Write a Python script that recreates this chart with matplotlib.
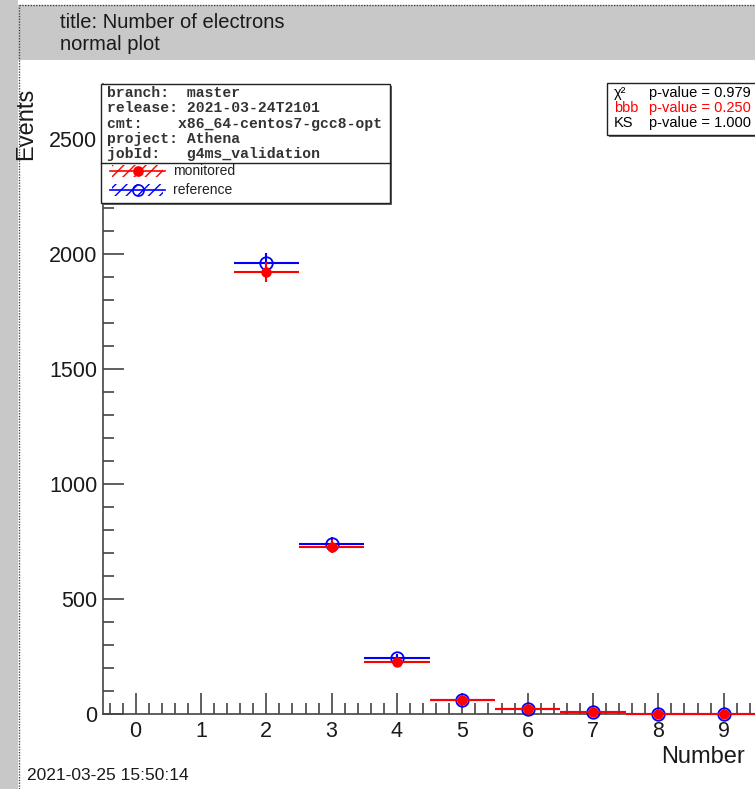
import numpy as np
import matplotlib
matplotlib.use('Agg')
import matplotlib.pyplot as plt
from matplotlib.patches import Rectangle
from matplotlib.lines import Line2D
from matplotlib.ticker import MultipleLocator

# histogram contents (number of electrons per event)
bins = [2, 3, 4, 5, 6, 7, 8, 9]
monitored = [1922, 728, 226, 60, 20, 8, 2, 1]
monitored_err = [44, 27, 15, 8, 4.5, 2.8, 1.4, 1]
reference = [1961, 741, 243, 62, 21, 8, 2, 1]
reference_err = [44, 27, 16, 8, 4.6, 2.8, 1.4, 1]
bin_half_width = 0.5

info_lines = ["branch:  master",
              "release: 2021-03-24T2101",
              "cmt:    x86_64-centos7-gcc8-opt",
              "project: Athena",
              "jobId:   g4ms_validation"]
stat_names = ["\u03c7\u00b2", "bbb", "KS"]
stat_pvalues = [0.979, 0.250, 1.000]
stat_colors = ["black", "red", "black"]

W, H = 755, 789
plt.rcParams['font.family'] = ['Liberation Sans', 'DejaVu Sans']


def fx(px):
    return px / W


def fy(py):
    return 1 - py / H


fig = plt.figure(figsize=(W / 100, H / 100), dpi=100)
fig.patch.set_facecolor('white')

# canvas decoration: gray strip, title band, dotted border
fig.add_artist(Rectangle((0, 0), fx(18), 1, transform=fig.transFigure,
                         facecolor='#c8c8c8', edgecolor='none', zorder=0))
fig.add_artist(Rectangle((fx(18), fy(60)), 1, fy(5) - fy(60), transform=fig.transFigure,
                         facecolor='#c8c8c8', edgecolor='none', zorder=0))
fig.add_artist(Line2D([fx(19), fx(19)], [0, fy(5)], transform=fig.transFigure,
                      color='#444444', lw=1, ls=(0, (1, 1))))
fig.add_artist(Line2D([fx(19), 1], [fy(5), fy(5)], transform=fig.transFigure,
                      color='#444444', lw=1, ls=(0, (1, 1))))
fig.text(fx(60), fy(22), "title: Number of electrons", fontsize=14.5,
         ha='left', va='center', color='#1a1a1a')
fig.text(fx(60), fy(45), "normal plot", fontsize=14.5,
         ha='left', va='center', color='#1a1a1a')

ax = fig.add_axes([fx(103), fy(714), fx(755) - fx(103), fy(84) - fy(714)])
ax.set_xlim(-0.5, (755 - 135) / 65.4)
ax.set_ylim(0, (714 - 84) / 0.23)

ax.errorbar(bins, reference, yerr=reference_err, xerr=bin_half_width,
            fmt='o', color='blue', mfc='none', mec='blue', ms=9, mew=1.3,
            elinewidth=1.5, capsize=0, zorder=3, clip_on=False)
ax.errorbar(bins, monitored, yerr=monitored_err, xerr=bin_half_width,
            fmt='o', color='red', mfc='red', mec='red', ms=6.5,
            elinewidth=1.5, capsize=0, zorder=4, clip_on=False)

for s in ['top', 'right']:
    ax.spines[s].set_visible(False)
for s in ['left', 'bottom']:
    ax.spines[s].set_color('#444444')
    ax.spines[s].set_linewidth(1.2)

ax.xaxis.set_major_locator(MultipleLocator(1))
ax.xaxis.set_minor_locator(MultipleLocator(0.2))
ax.yaxis.set_major_locator(MultipleLocator(500))
ax.yaxis.set_minor_locator(MultipleLocator(100))
ax.tick_params(which='both', direction='in', colors='#444444', labelcolor='#1a1a1a',
               labelsize=15.5, width=1.2, pad=4)
ax.tick_params(which='major', length=15)
ax.tick_params(which='minor', length=8)
ax.tick_params(axis='x', pad=5)

fig.text(fx(745), fy(757), "Number", fontsize=17, ha='right', va='center', color='#1a1a1a')
fig.text(fx(26), fy(88), "Events", fontsize=17, rotation=90,
         ha='center', va='top', color='#1a1a1a')
fig.text(fx(27), fy(775), "2021-03-25 15:50:14", fontsize=12.5,
         ha='left', va='center', color='#1a1a1a')

# info box with legend
bx0, bx1, by0, by1 = 101, 390, 84, 203
fig.add_artist(Rectangle((fx(bx0 + 2), fy(by1 + 2)), fx(bx1) - fx(bx0), fy(by0) - fy(by1),
                         transform=fig.transFigure, facecolor='#666666',
                         edgecolor='none', zorder=5))
fig.add_artist(Rectangle((fx(bx0), fy(by1)), fx(bx1) - fx(bx0), fy(by0) - fy(by1),
                         transform=fig.transFigure, facecolor='white',
                         edgecolor='#222222', lw=1, zorder=6))
fig.add_artist(Line2D([fx(bx0), fx(bx1)], [fy(163), fy(163)], transform=fig.transFigure,
                      color='#222222', lw=1, zorder=7))
for i, line in enumerate(info_lines):
    fig.text(fx(107), fy(93 + 15.3 * i), line, family='Liberation Mono',
             fontweight='bold', fontsize=10.6, ha='left', va='center',
             color='#333333', zorder=8)

for yy, col, name, filled in [(171, 'red', 'monitored', True),
                              (190, 'blue', 'reference', False)]:
    fig.add_artist(Rectangle((fx(112), fy(yy + 6)), fx(163) - fx(112), fy(yy - 6) - fy(yy + 6),
                             transform=fig.transFigure, facecolor='none',
                             edgecolor=col, hatch='///', lw=0, zorder=7))
    fig.add_artist(Line2D([fx(110), fx(165)], [fy(yy), fy(yy)], transform=fig.transFigure,
                          color=col, lw=1.2, zorder=8))
    fig.add_artist(Line2D([fx(138)], [fy(yy)], transform=fig.transFigure, marker='o',
                          ms=6.5 if filled else 8, mfc=col if filled else 'none',
                          mec=col, mew=1.2, zorder=9))
    fig.text(fx(173), fy(yy), name, fontsize=10, ha='left', va='center',
             color='#222222', zorder=8)

# statistics box
sx0, sx1, sy0, sy1 = 607, 770, 83, 135
fig.add_artist(Rectangle((fx(sx0 + 2), fy(sy1 + 2)), fx(sx1) - fx(sx0), fy(sy0) - fy(sy1),
                         transform=fig.transFigure, facecolor='#666666',
                         edgecolor='none', zorder=5))
fig.add_artist(Rectangle((fx(sx0), fy(sy1)), fx(sx1) - fx(sx0), fy(sy0) - fy(sy1),
                         transform=fig.transFigure, facecolor='white',
                         edgecolor='#222222', lw=1, zorder=6))
for i, (name, p, col) in enumerate(zip(stat_names, stat_pvalues, stat_colors)):
    yy = 93 + 15 * i
    fig.text(fx(614), fy(yy), name, fontsize=10.5, ha='left', va='center',
             color=col, zorder=8)
    fig.text(fx(649), fy(yy), f"p-value = {p:.3f}", fontsize=10.5, ha='left',
             va='center', color=col, zorder=8)

fig.savefig("out.png", dpi=100)
